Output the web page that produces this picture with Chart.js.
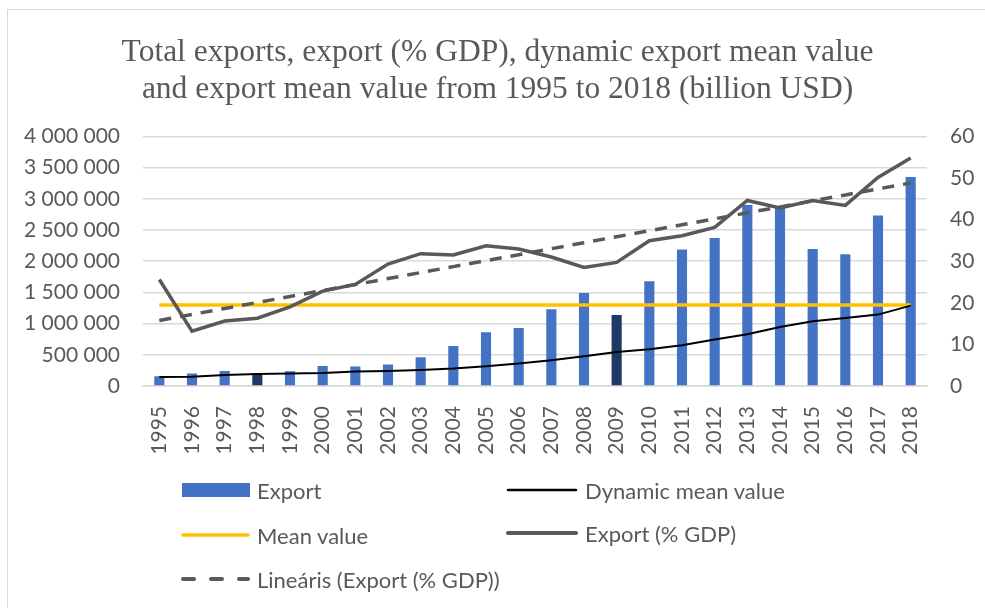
<!DOCTYPE html>
<html>
<head>
<meta charset="utf-8">
<script src="https://cdn.jsdelivr.net/npm/chart.js@4.4.1/dist/chart.umd.min.js"></script>
<style>
    body { margin: 0; background: #fff; }
    #wrap { position: relative; width: 985px; height: 608px; overflow: hidden; }
    #frame { position: absolute; left: 7px; top: 9px; width: 1000px; height: 700px; border-left: 1px solid #d9d9d9; border-top: 1px solid #d9d9d9; }
    canvas { position: absolute; left: 0; top: 0; }
    .item { position: absolute; height: 26px; display: flex; align-items: center; font-family: Lato, sans-serif; font-size: 22px; color: #595959; white-space: nowrap; }
    .item svg { margin-right: 7px; }
</style>
</head>
<body>
<div id="wrap">
    <div id="frame"></div>
    <canvas id="chart" width="985" height="608"></canvas>

    <div class="item" style="left:181px; top:477px">
        <svg width="69" height="14"><rect x="1" y="0" width="68" height="14" fill="#4472C4"/></svg>Export
    </div>
    <div class="item" style="left:506px; top:477px">
        <svg width="72" height="14"><line x1="2" y1="7" x2="70" y2="7" stroke="#000" stroke-width="2.5" stroke-linecap="round"/></svg>Dynamic mean value
    </div>
    <div class="item" style="left:181px; top:522px">
        <svg width="69" height="14"><line x1="2" y1="7" x2="67" y2="7" stroke="#FFC000" stroke-width="3.5" stroke-linecap="round"/></svg>Mean value
    </div>
    <div class="item" style="left:506px; top:520px">
        <svg width="72" height="14"><line x1="2" y1="7" x2="70" y2="7" stroke="#595959" stroke-width="4" stroke-linecap="round"/></svg>Export (% GDP)
    </div>
    <div class="item" style="left:181px; top:566px">
        <svg width="69" height="14"><line x1="2" y1="7" x2="67" y2="7" stroke="#595959" stroke-width="4" stroke-linecap="round" stroke-dasharray="11 17"/></svg>Lineáris (Export (% GDP))
    </div>
</div>

<script>
const years = ['1995', '1996', '1997', '1998', '1999', '2000', '2001', '2002', '2003', '2004', '2005', '2006',
    '2007', '2008', '2009', '2010', '2011', '2012', '2013', '2014', '2015', '2016', '2017', '2018']

// Export (billion USD) - columns, left axis
const exportValues = [155000, 199000, 240000, 208000, 235000, 320000, 311000, 343000, 460000, 641000, 860000, 930000,
    1229000, 1490000, 1138000, 1678000, 2186000, 2372000, 2901000, 2859000, 2196000, 2111000, 2731000, 3349000]

// Dynamic mean value - left axis
const dynamicMean = [144000, 150000, 176000, 192000, 199000, 208000, 231000, 240000, 256000, 279000, 316000, 359000,
    412000, 476000, 545000, 588000, 652000, 744000, 829000, 946000, 1037000, 1090000, 1144000, 1288000]

// Mean value - left axis
const meanValue = [1298000]

// Export (% GDP) - right axis
const exportGdp = [25.6, 13.2, 15.6, 16.3, 19.0, 22.8, 24.4, 29.3, 31.8, 31.5, 33.7, 32.9,
    31.0, 28.5, 29.7, 34.9, 36.1, 38.1, 44.6, 42.8, 44.6, 43.4, 50.1, 54.8]

// Crisis years drawn in dark blue
const crisisYears = ['1998', '2009']

const leftTicks = [0, 500000, 1000000, 1500000, 2000000, 2500000, 3000000, 3500000, 4000000]
const rightTicks = [0, 10, 20, 30, 40, 50, 60]



// Excel style linear trendline (least squares) of the Export (% GDP) series
const linearTrend = (values) => {
    const n = values.length
    const mx = (n - 1) / 2
    const my = values.reduce((a, b) => a + b, 0) / n
    let num = 0
    let den = 0
    values.forEach((v, i) => {
        num += (i - mx) * (v - my)
        den += (i - mx) * (i - mx)
    })
    const slope = num / den
    return values.map((v, i) => my + slope * (i - mx))
}

const formatSpaces = (v) => String(v).replace(/\B(?=(\d{3})+(?!\d))/g, ' ')

const tickFont = { family: 'Lato', size: 21 }
const gray = '#595959'

new Chart(document.getElementById('chart'), {
    data: {
        labels: years,
        datasets: [
            {
                type: 'line',
                label: 'Lineáris (Export (% GDP))',
                data: linearTrend(exportGdp),
                yAxisID: 'yRight',
                borderColor: gray,
                borderWidth: 3.5,
                borderDash: [12, 9],
                pointRadius: 0,
                order: 1
            },
            {
                type: 'line',
                label: 'Export (% GDP)',
                data: exportGdp,
                yAxisID: 'yRight',
                borderColor: gray,
                borderWidth: 3.5,
                pointRadius: 0,
                order: 2
            },
            {
                type: 'line',
                label: 'Dynamic mean value',
                data: dynamicMean,
                yAxisID: 'yLeft',
                borderColor: '#000000',
                borderWidth: 2,
                pointRadius: 0,
                order: 3
            },
            {
                type: 'line',
                label: 'Mean value',
                data: years.map(() => meanValue[0]),
                yAxisID: 'yLeft',
                borderColor: '#FFC000',
                borderWidth: 3.5,
                pointRadius: 0,
                order: 4
            },
            {
                type: 'bar',
                label: 'Export',
                data: exportValues,
                yAxisID: 'yLeft',
                backgroundColor: years.map(y => crisisYears.includes(y) ? '#203864' : '#4472C4'),
                categoryPercentage: 1,
                barPercentage: 0.31,
                order: 10
            }
        ]
    },
    options: {
        responsive: false,
        animation: false,
        devicePixelRatio: 1,
        layout: {
            padding: { left: 10, right: 0, top: 10, bottom: 150 }
        },
        plugins: {
            legend: { display: false },
            tooltip: { enabled: false },
            title: {
                display: true,
                text: ['Total exports, export (% GDP), dynamic export mean value',
                       'and export mean value from 1995 to 2018 (billion USD)'],
                color: gray,
                font: { family: 'Liberation Serif', size: 31.5, weight: 'normal', lineHeight: 1.18 },
                padding: { top: 24, bottom: 28 }
            }
        },
        scales: {
            x: {
                grid: { display: false },
                border: { color: '#d9d9d9', width: 1.5 },
                ticks: {
                    color: gray,
                    font: tickFont,
                    minRotation: 90,
                    maxRotation: 90,
                    padding: 12,
                    autoSkip: false
                },
                afterFit: (s) => { s.height = 72 }
            },
            yLeft: {
                position: 'left',
                min: 0,
                max: 4000000,
                afterBuildTicks: (s) => { s.ticks = leftTicks.map(v => ({ value: v })) },
                grid: { color: '#d9d9d9', lineWidth: 1.5, drawTicks: false },
                border: { display: false },
                ticks: {
                    color: gray,
                    font: tickFont,
                    padding: 23,
                    callback: (v) => formatSpaces(v)
                },
                afterFit: (s) => { s.width = 133 }
            },
            yRight: {
                position: 'right',
                min: 0,
                max: 60,
                afterBuildTicks: (s) => { s.ticks = rightTicks.map(v => ({ value: v })) },
                grid: { display: false, drawTicks: false },
                border: { display: false },
                ticks: {
                    color: gray,
                    font: tickFont,
                    padding: 23
                },
                afterFit: (s) => { s.width = 58 }
            }
        }
    }
})
</script>
</body>
</html>
